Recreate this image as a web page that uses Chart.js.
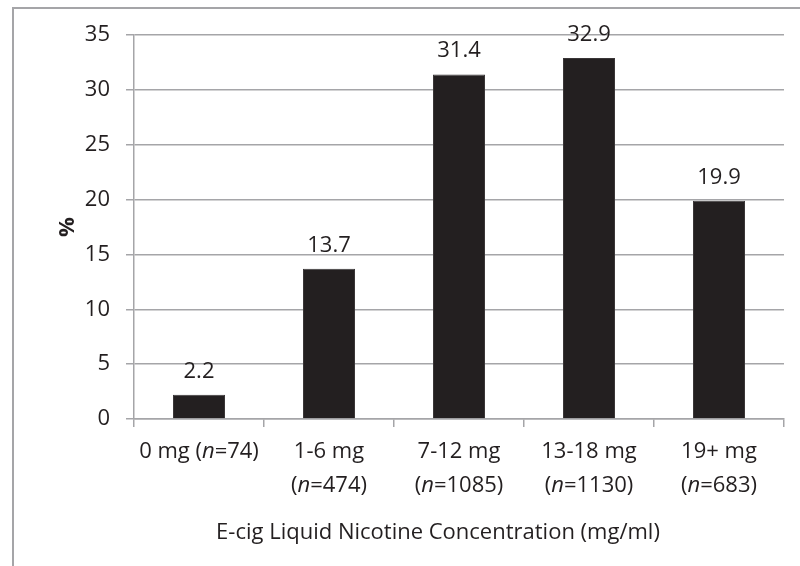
<!DOCTYPE html>
<html>
<head>
<meta charset="utf-8">
<script src="https://cdn.jsdelivr.net/npm/chart.js@4/dist/chart.umd.min.js"></script>
<style>
  body { margin: 0; background: #fff; overflow: hidden; }
  #wrap { position: relative; width: 800px; height: 566px; }
  #frame { position: absolute; left: 12px; top: 7px; width: 840px; height: 620px; border: 2px solid #a5a5a8; box-sizing: border-box; }
</style>
</head>
<body>
<div id="wrap">
  <div id="frame"></div>
  <canvas id="myChart"></canvas>
</div>
<script>
const MY_CHART = document.querySelector("#myChart");

const categories = [
  ['0 mg (n=74)'],
  ['1-6 mg', '(n=474)'],
  ['7-12 mg', '(n=1085)'],
  ['13-18 mg', '(n=1130)'],
  ['19+ mg', '(n=683)']
];
const percents = [2.2, 13.7, 31.4, 32.9, 19.9];
const xTitle = 'E-cig Liquid Nicotine Concentration (mg/ml)';
const yTitle = '%';

const FONT = '"Open Sans", sans-serif';
const FSIZE = 22;
const GRAY = '#a5a5a8';
const INK = '#231f20';

// draws a label with the "n" before "=" in italic
function drawMixed(ctx, text, cx, y) {
  const parts = text.split(/(n(?==))/);
  const fonts = parts.map(p => (p === 'n' ? 'italic ' : '') + FSIZE + 'px ' + FONT);
  let total = 0;
  const widths = parts.map((p, i) => { ctx.font = fonts[i]; const w = ctx.measureText(p).width; total += w; return w; });
  let x = cx - total / 2;
  ctx.textAlign = 'left';
  parts.forEach((p, i) => { ctx.font = fonts[i]; ctx.fillText(p, x, y); x += widths[i]; });
}

const labelsPlugin = {
  id: 'labelsPlugin',
  afterDraw(chart) {
    const ctx = chart.ctx;
    const xs = chart.scales.x;
    ctx.save();
    ctx.fillStyle = INK;
    ctx.textBaseline = 'middle';
    categories.forEach((lines, i) => {
      const cx = xs.getPixelForValue(i);
      lines.forEach((line, j) => drawMixed(ctx, line, cx, xs.top + 33 + j * 34));
    });
    ctx.font = FSIZE + 'px ' + FONT;
    ctx.textAlign = 'center';
    ctx.fillText(xTitle, (chart.chartArea.left + chart.chartArea.right) / 2 - 21, xs.top + 114);
    // value labels above bars
    ctx.textBaseline = 'alphabetic';
    chart.getDatasetMeta(0).data.forEach((bar, i) => {
      ctx.fillText(String(percents[i]), bar.x, bar.y - 17);
    });
    ctx.restore();
  }
};

const data = {
  labels: categories.map(c => c.join(' ')),
  datasets: [{
    data: percents,
    backgroundColor: INK,
    borderColor: '#3a3637',
    borderWidth: 1,
    categoryPercentage: 1,
    barPercentage: 0.4
  }]
};

const CONFIG = {
  type: 'bar',
  data: data,
  options: {
    responsive: true,
    maintainAspectRatio: false,
    animation: false,
    layout: { padding: { top: 35, right: 16, left: 55, bottom: 0 } },
    plugins: { legend: { display: false }, tooltip: { enabled: false } },
    scales: {
      x: {
        offset: true,
        grid: { offset: true, drawOnChartArea: false, drawTicks: true, tickLength: 8, color: GRAY, lineWidth: 1.5 },
        border: { display: true, color: GRAY, width: 1.5 },
        ticks: { display: false },
        afterFit(scale) { scale.height = 147; }
      },
      y: {
        min: 0,
        max: 35,
        ticks: { stepSize: 5, color: INK, padding: 16, font: { family: FONT, size: FSIZE } },
        grid: { color: GRAY, lineWidth: 1.5, tickLength: 8 },
        border: { display: true, color: GRAY, width: 1.5 },
        title: { display: true, text: yTitle, color: INK, padding: 0, font: { family: FONT, size: FSIZE, weight: 'bold' } },
        afterFit(scale) { scale.width = 134 - 55; }
      }
    }
  },
  plugins: [labelsPlugin]
};

const chart = new Chart(MY_CHART, CONFIG);
</script>
</body>
</html>
